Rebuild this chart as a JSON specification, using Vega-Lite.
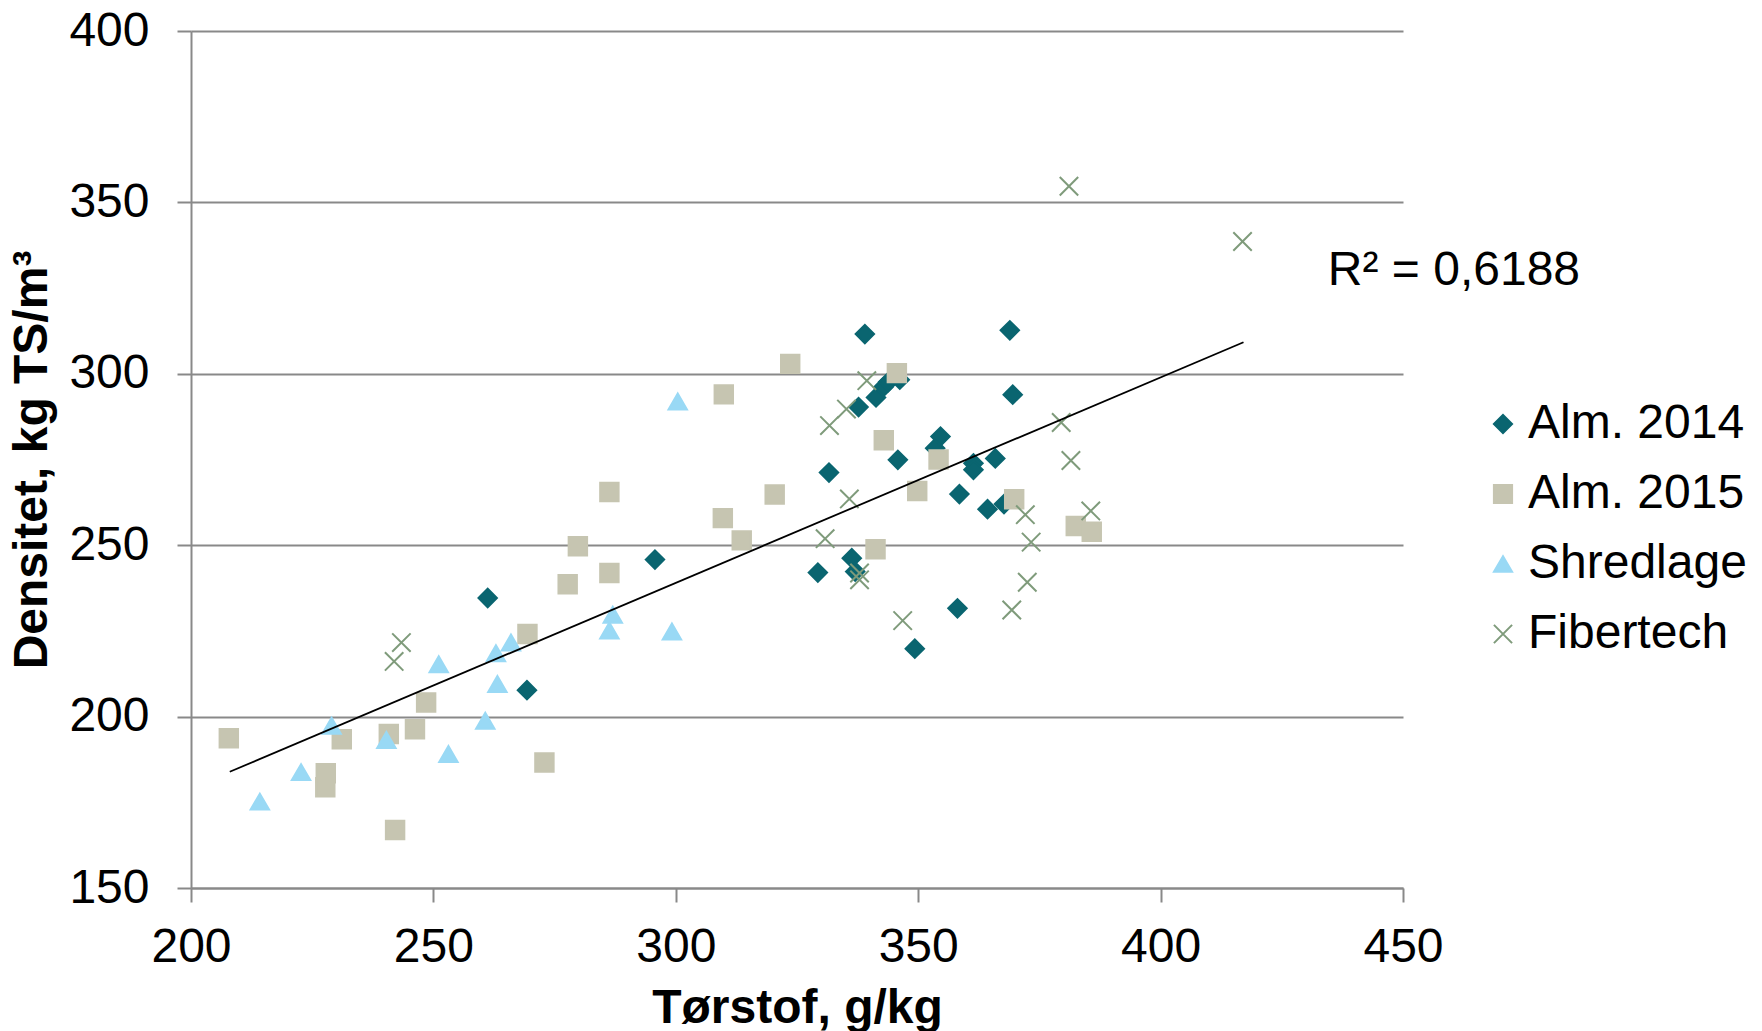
{
  "$schema": "https://vega.github.io/schema/vega-lite/v6.json",
  "width": 1212,
  "height": 857,
  "autosize": {"type": "none"},
  "padding": {"left": 191, "top": 31, "right": 359, "bottom": 143},
  "background": "white",
  "config": {
    "view": {"stroke": null},
    "font": "Liberation Sans",
    "axis": {"labelFont": "Liberation Sans", "titleFont": "Liberation Sans", "labelColor": "black", "titleColor": "black"},
    "legend": {"labelFont": "Liberation Sans", "labelColor": "black", "labelLimit": 0}
  },
  "datasets": {
    "pts": [
      {"serie": "Alm. 2014", "ts": 261.2, "dens": 234.6},
      {"serie": "Alm. 2014", "ts": 269.3, "dens": 207.7},
      {"serie": "Alm. 2014", "ts": 295.7, "dens": 245.8},
      {"serie": "Alm. 2014", "ts": 329.3, "dens": 242.0},
      {"serie": "Alm. 2014", "ts": 331.6, "dens": 271.2},
      {"serie": "Alm. 2014", "ts": 336.3, "dens": 246.2},
      {"serie": "Alm. 2014", "ts": 337.0, "dens": 242.3},
      {"serie": "Alm. 2014", "ts": 337.7, "dens": 290.3},
      {"serie": "Alm. 2014", "ts": 339.0, "dens": 311.6},
      {"serie": "Alm. 2014", "ts": 341.3, "dens": 293.1},
      {"serie": "Alm. 2014", "ts": 342.8, "dens": 296.1},
      {"serie": "Alm. 2014", "ts": 343.8, "dens": 297.6},
      {"serie": "Alm. 2014", "ts": 346.2, "dens": 298.3},
      {"serie": "Alm. 2014", "ts": 345.8, "dens": 274.9},
      {"serie": "Alm. 2014", "ts": 349.3, "dens": 219.8},
      {"serie": "Alm. 2014", "ts": 353.5, "dens": 278.3},
      {"serie": "Alm. 2014", "ts": 354.6, "dens": 281.7},
      {"serie": "Alm. 2014", "ts": 358.1, "dens": 231.6},
      {"serie": "Alm. 2014", "ts": 358.5, "dens": 264.9},
      {"serie": "Alm. 2014", "ts": 361.4, "dens": 273.9},
      {"serie": "Alm. 2014", "ts": 361.4, "dens": 272.0},
      {"serie": "Alm. 2014", "ts": 364.3, "dens": 260.5},
      {"serie": "Alm. 2014", "ts": 365.9, "dens": 275.3},
      {"serie": "Alm. 2014", "ts": 367.7, "dens": 262.0},
      {"serie": "Alm. 2014", "ts": 368.9, "dens": 312.7},
      {"serie": "Alm. 2014", "ts": 369.5, "dens": 293.9},
      {"serie": "Alm. 2015", "ts": 207.8, "dens": 193.7},
      {"serie": "Alm. 2015", "ts": 227.8, "dens": 183.5},
      {"serie": "Alm. 2015", "ts": 227.7, "dens": 179.4},
      {"serie": "Alm. 2015", "ts": 231.1, "dens": 193.4},
      {"serie": "Alm. 2015", "ts": 240.8, "dens": 194.9},
      {"serie": "Alm. 2015", "ts": 242.1, "dens": 166.9},
      {"serie": "Alm. 2015", "ts": 246.2, "dens": 196.3},
      {"serie": "Alm. 2015", "ts": 248.5, "dens": 204.1},
      {"serie": "Alm. 2015", "ts": 269.4, "dens": 224.1},
      {"serie": "Alm. 2015", "ts": 272.9, "dens": 186.6},
      {"serie": "Alm. 2015", "ts": 277.7, "dens": 238.6},
      {"serie": "Alm. 2015", "ts": 279.8, "dens": 249.7},
      {"serie": "Alm. 2015", "ts": 286.3, "dens": 241.9},
      {"serie": "Alm. 2015", "ts": 286.3, "dens": 265.5},
      {"serie": "Alm. 2015", "ts": 309.7, "dens": 257.9},
      {"serie": "Alm. 2015", "ts": 309.9, "dens": 294.0},
      {"serie": "Alm. 2015", "ts": 313.6, "dens": 251.4},
      {"serie": "Alm. 2015", "ts": 320.4, "dens": 264.8},
      {"serie": "Alm. 2015", "ts": 323.6, "dens": 302.9},
      {"serie": "Alm. 2015", "ts": 341.2, "dens": 248.8},
      {"serie": "Alm. 2015", "ts": 342.9, "dens": 280.6},
      {"serie": "Alm. 2015", "ts": 345.6, "dens": 300.2},
      {"serie": "Alm. 2015", "ts": 349.8, "dens": 265.8},
      {"serie": "Alm. 2015", "ts": 354.2, "dens": 275.0},
      {"serie": "Alm. 2015", "ts": 369.8, "dens": 263.4},
      {"serie": "Alm. 2015", "ts": 382.5, "dens": 255.6},
      {"serie": "Alm. 2015", "ts": 385.8, "dens": 253.9},
      {"serie": "Shredlage", "ts": 214.2, "dens": 175.2},
      {"serie": "Shredlage", "ts": 222.7, "dens": 183.8},
      {"serie": "Shredlage", "ts": 229.0, "dens": 197.3},
      {"serie": "Shredlage", "ts": 240.3, "dens": 193.2},
      {"serie": "Shredlage", "ts": 251.1, "dens": 215.3},
      {"serie": "Shredlage", "ts": 253.1, "dens": 189.1},
      {"serie": "Shredlage", "ts": 260.7, "dens": 198.8},
      {"serie": "Shredlage", "ts": 263.2, "dens": 209.5},
      {"serie": "Shredlage", "ts": 262.9, "dens": 218.5},
      {"serie": "Shredlage", "ts": 266.0, "dens": 221.6},
      {"serie": "Shredlage", "ts": 286.3, "dens": 225.1},
      {"serie": "Shredlage", "ts": 287.0, "dens": 229.7},
      {"serie": "Shredlage", "ts": 299.2, "dens": 224.8},
      {"serie": "Shredlage", "ts": 300.4, "dens": 291.9},
      {"serie": "Fibertech", "ts": 241.9, "dens": 216.1},
      {"serie": "Fibertech", "ts": 243.4, "dens": 221.6},
      {"serie": "Fibertech", "ts": 330.8, "dens": 251.9},
      {"serie": "Fibertech", "ts": 331.7, "dens": 284.9},
      {"serie": "Fibertech", "ts": 335.2, "dens": 289.7},
      {"serie": "Fibertech", "ts": 335.8, "dens": 263.5},
      {"serie": "Fibertech", "ts": 337.9, "dens": 241.9},
      {"serie": "Fibertech", "ts": 337.9, "dens": 239.9},
      {"serie": "Fibertech", "ts": 339.4, "dens": 298.0},
      {"serie": "Fibertech", "ts": 346.8, "dens": 228.0},
      {"serie": "Fibertech", "ts": 369.3, "dens": 231.1},
      {"serie": "Fibertech", "ts": 372.1, "dens": 258.9},
      {"serie": "Fibertech", "ts": 372.5, "dens": 239.2},
      {"serie": "Fibertech", "ts": 373.3, "dens": 250.9},
      {"serie": "Fibertech", "ts": 379.5, "dens": 285.8},
      {"serie": "Fibertech", "ts": 381.1, "dens": 354.7},
      {"serie": "Fibertech", "ts": 381.5, "dens": 274.7},
      {"serie": "Fibertech", "ts": 385.6, "dens": 260.0},
      {"serie": "Fibertech", "ts": 416.9, "dens": 338.6}
    ],
    "trend": [
      {"ts": 208.0, "dens": 183.9},
      {"ts": 417.1, "dens": 309.2}
    ],
    "r2": [
      {"ts": 434.5, "dens": 326.0, "label": "R² = 0,6188"}
    ]
  },
  "layer": [
    {
      "data": {"name": "pts"},
      "mark": {"type": "point", "filled": true, "opacity": 1, "strokeWidth": 2, "size": 340},
      "encoding": {
        "x": {
          "field": "ts", "type": "quantitative",
          "scale": {"domain": [200, 450], "nice": false, "zero": false},
          "axis": {
            "title": "Tørstof, g/kg", "values": [200, 250, 300, 350, 400, 450],
            "grid": false, "labelFontSize": 48, "titleFontSize": 48, "titleFontWeight": "bold",
            "tickSize": 14, "tickWidth": 2, "tickColor": "#898989",
            "domainColor": "#898989", "domainWidth": 2,
            "labelPadding": 21, "titlePadding": 13, "labelFlush": false
          }
        },
        "y": {
          "field": "dens", "type": "quantitative",
          "scale": {"domain": [150, 400], "nice": false, "zero": false},
          "axis": {
            "title": "Densitet, kg TS/m³", "values": [150, 200, 250, 300, 350, 400],
            "grid": true, "gridColor": "#898989", "gridWidth": 2,
            "labelFontSize": 48, "titleFontSize": 48, "titleFontWeight": "bold",
            "tickSize": 14, "tickWidth": 2, "tickColor": "#898989",
            "domainColor": "#898989", "domainWidth": 2,
            "labelPadding": 28, "titlePadding": 12, "labelFlush": false
          }
        },
        "fill": {
          "field": "serie", "type": "nominal",
          "scale": {"domain": ["Alm. 2014", "Alm. 2015", "Shredlage", "Fibertech"], "range": ["#0A6570", "#C6C5B1", "#99D9F5", "#7F9B7B"]},
          "legend": {
            "title": null, "orient": "none", "legendX": 1288, "legendY": 369,
            "labelFontSize": 48, "rowPadding": 22, "labelOffset": 1, "padding": 0,
            "symbolStrokeWidth": 2, "symbolSize": 330, "labelLimit": 0
          }
        },
        "stroke": {
          "field": "serie", "type": "nominal",
          "scale": {"domain": ["Alm. 2014", "Alm. 2015", "Shredlage", "Fibertech"], "range": ["#0A6570", "#C6C5B1", "#99D9F5", "#7F9B7B"]},
          "legend": {
            "title": null, "orient": "none", "legendX": 1288, "legendY": 369,
            "labelFontSize": 48, "rowPadding": 22, "labelOffset": 1, "padding": 0,
            "symbolStrokeWidth": 2, "symbolSize": 330, "labelLimit": 0
          }
        },
        "shape": {
          "field": "serie", "type": "nominal",
          "scale": {"domain": ["Alm. 2014", "Alm. 2015", "Shredlage", "Fibertech"], "range": ["diamond", "square", "triangle-up", "M-1,-1L1,1M1,-1L-1,1"]},
          "legend": {
            "title": null, "orient": "none", "legendX": 1288, "legendY": 369,
            "labelFontSize": 48, "rowPadding": 22, "labelOffset": 1, "padding": 0,
            "symbolStrokeWidth": 2, "symbolSize": 330, "labelLimit": 0
          }
        }
      }
    },
    {
      "data": {"name": "trend"},
      "mark": {"type": "line", "color": "black", "strokeWidth": 1.8},
      "encoding": {
        "x": {"field": "ts", "type": "quantitative"},
        "y": {"field": "dens", "type": "quantitative"}
      }
    },
    {
      "data": {"name": "r2"},
      "mark": {"type": "text", "align": "left", "baseline": "alphabetic", "fontSize": 48, "color": "black", "font": "Liberation Sans"},
      "encoding": {
        "x": {"field": "ts", "type": "quantitative"},
        "y": {"field": "dens", "type": "quantitative"},
        "text": {"field": "label"}
      }
    }
  ]
}
